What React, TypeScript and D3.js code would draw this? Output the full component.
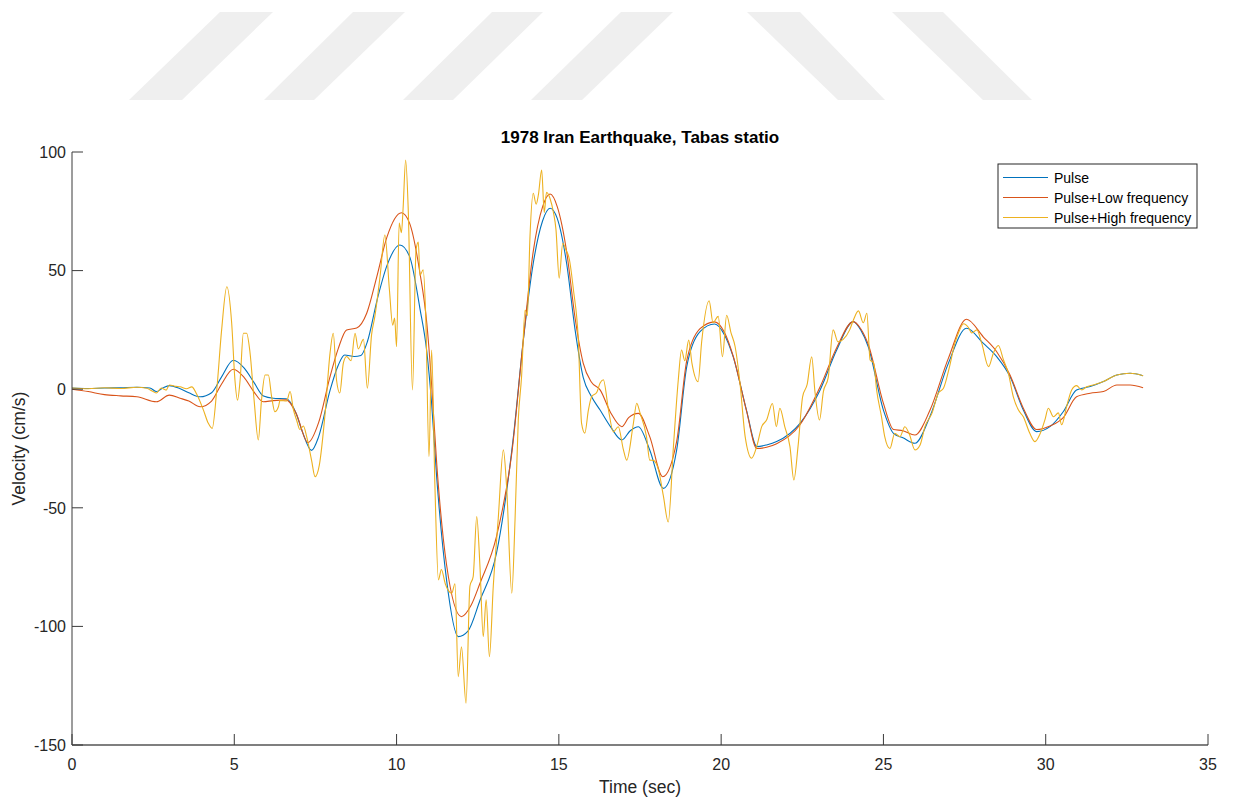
import React from "react";
import * as d3 from "d3";

// Velocity time histories (time in s, velocity in cm/s)
const pulse: [number, number][] = [
  [0, 0.5], [0.5, 0.3], [1.0, 0.5], [1.5, 0.6], [2.0, 0.8], [2.4, 0.5], [2.6, -1.0], [2.8, 0.5],
  [3.0, 1.5], [3.3, 0.4], [3.6, -1.5], [3.95, -3.2], [4.3, -1.5], [4.6, 5], [4.97, 12.2], [5.3, 9],
  [5.6, 3], [5.9, -2.9], [6.2, -3.8], [6.6, -4.0], [6.9, -10], [7.1, -18], [7.38, -25.8], [7.6, -20],
  [7.95, -0.5], [8.2, 10], [8.4, 14.4], [8.7, 13.8], [8.9, 14.2], [9.1, 20], [9.4, 37.6], [9.7, 52],
  [10.1, 60.8], [10.4, 56], [10.72, 34], [10.93, 16], [11.08, -6], [11.23, -36], [11.54, -80.4],
  [11.9, -104.3], [12.2, -102], [12.57, -89], [13.08, -69], [13.6, -20], [13.9, 20], [14.21, 53],
  [14.5, 71], [14.73, 76.3], [14.95, 72], [15.24, 53], [15.5, 25], [15.75, 5], [16.0, -3], [16.27, -8.8],
  [16.6, -16], [16.94, -21.4], [17.2, -17.5], [17.45, -15.8], [17.8, -25.6], [18.22, -41.8],
  [18.63, -25.6], [18.94, 9.5], [19.35, 24.3], [19.8, 27.5], [20.1, 23], [20.37, 13.7], [20.78, -8.8],
  [21.1, -24.2], [21.4, -23.5], [21.71, -22.1], [22.43, -14.4], [23.05, -0.3], [23.56, 16.5],
  [24.07, 28.5], [24.3, 25], [24.53, 18], [25.0, -8.8], [25.31, -18.6], [25.6, -20.5], [25.97, -22.8],
  [26.43, -11.6], [27.0, 10.9], [27.56, 25.7], [28.08, 19.3], [28.49, 13.7], [28.9, 5.3], [29.31, -8.8],
  [29.72, -17.9], [30.13, -15.8], [30.54, -9.5], [30.95, -0.3], [31.37, 1.1], [31.78, 3.2], [32.19, 6],
  [32.6, 6.7], [33.0, 5.7],
];

const pulseLow: [number, number][] = [
  [0, 0], [0.5, -1], [1.0, -2.3], [1.5, -2.8], [2.0, -3.2], [2.6, -5.3], [3.0, -2.5], [3.33, -3.8],
  [3.6, -5], [3.95, -7.4], [4.3, -5], [4.6, 2], [4.97, 8.4], [5.3, 5], [5.6, -1], [5.89, -5.3],
  [6.2, -4.8], [6.6, -4.5], [6.9, -10], [7.27, -22.5], [7.6, -14], [7.95, 5.3], [8.2, 17], [8.46, 25],
  [8.77, 25.8], [9.08, 32], [9.39, 47.4], [9.7, 64], [10.15, 74.4], [10.4, 70], [10.72, 49],
  [10.93, 28], [11.08, 2], [11.24, -32], [11.54, -74], [12.0, -95.9], [12.3, -91], [12.57, -81.8],
  [13.08, -62], [13.55, -27], [13.9, 20], [14.21, 58], [14.5, 77], [14.73, 82.3], [14.95, 77], [15.24, 58],
  [15.5, 30], [15.75, 11], [16.0, 3], [16.27, -0.3], [16.6, -10], [16.94, -15.8], [17.15, -12],
  [17.45, -10.2], [17.8, -20], [18.2, -36.9], [18.63, -22], [18.94, 12], [19.35, 25.5], [19.8, 28.4],
  [20.1, 24], [20.37, 14], [20.78, -9], [21.1, -25], [21.4, -24.5], [21.71, -23], [22.43, -15],
  [23.05, 1], [23.56, 17.5], [24.07, 28.5], [24.3, 25.5], [24.53, 19], [25.0, -6], [25.31, -17],
  [25.6, -17.5], [25.97, -19.3], [26.43, -9], [27.0, 13], [27.56, 29.5], [28.08, 22], [28.49, 15.8],
  [28.9, 6], [29.31, -8], [29.72, -17], [30.13, -15.5], [30.54, -12], [30.95, -3.2], [31.37, -1.7],
  [31.78, -1], [32.19, 1.8], [32.6, 1.8], [33.0, 0.6],
];

const pulseHigh: [number, number][] = [
  [0, 0.5], [0.5, 0.2], [1.0, 0.6], [1.5, 0.3], [2.0, 0.8], [2.3, 0.4], [2.5, -1], [2.6, -1.6],
  [2.75, 0.5], [2.9, -0.4], [3.0, 1.8], [3.2, 1.2], [3.33, 1], [3.53, 0.2], [3.69, 1], [3.84, -2],
  [4.05, -8.8], [4.2, -14.4], [4.32, -16.5], [4.46, -0.3], [4.61, 25], [4.77, 43.2], [4.92, 27.8],
  [5.02, 3.9], [5.1, -4.6], [5.18, 3.9], [5.28, 23.6], [5.38, 23.6], [5.48, 16], [5.61, -4.5],
  [5.74, -21.4], [5.84, -4.4], [5.95, 6], [6.05, 6], [6.15, -3.1], [6.25, -9.5], [6.36, -7.4],
  [6.41, -4.7], [6.61, -5], [6.72, -1], [6.82, -8.5], [6.92, -13], [7.02, -17], [7.13, -15.5],
  [7.23, -20], [7.38, -29.9], [7.49, -36.9], [7.62, -32], [7.8, -10], [7.95, 15.2], [8.05, 23.6],
  [8.15, 3.9], [8.25, -1.6], [8.36, 11], [8.46, 13.8], [8.6, 12], [8.72, 23.6], [8.82, 17], [8.98, 21],
  [9.1, 0.4], [9.23, 23], [9.33, 30.6], [9.49, 47.4], [9.64, 65], [9.78, 41.8], [9.88, 27], [9.94, 30],
  [10.0, 17.9], [10.08, 70], [10.15, 66], [10.2, 76], [10.28, 96.6], [10.36, 75.5], [10.49, -0.3],
  [10.6, 58.7], [10.67, 62], [10.72, 48], [10.82, 50.3], [10.9, 30], [11.0, -28.4], [11.08, 16.5],
  [11.18, -40], [11.29, -80.4], [11.38, -76], [11.5, -82], [11.7, -86], [11.8, -82], [11.9, -121.2],
  [12.0, -108.6], [12.14, -132.4], [12.26, -83], [12.36, -79], [12.47, -53.7], [12.57, -75],
  [12.67, -104.3], [12.76, -88.8], [12.86, -112.8], [12.98, -83], [13.13, -55], [13.29, -25.6],
  [13.39, -41], [13.55, -86], [13.65, -55], [13.75, -13], [13.85, 5], [13.96, 33.4], [14.03, 31],
  [14.11, 64.3], [14.21, 82.6], [14.3, 78], [14.37, 82], [14.47, 92.4], [14.55, 74.5], [14.62, 83],
  [14.73, 80.3], [14.83, 74.7], [14.91, 67.5], [15.01, 46.8], [15.12, 61.5], [15.22, 58.7], [15.32, 55],
  [15.45, 41.8], [15.6, 20.7], [15.7, -14.4], [15.8, -18.5], [15.91, -8.8], [16.01, -3.2], [16.17, -1.3],
  [16.27, 2.6], [16.37, 4], [16.53, -8.8], [16.68, -18], [16.83, -15.8], [16.99, -25.6], [17.09, -29.9],
  [17.29, -15], [17.4, -5.9], [17.5, -10], [17.7, -20], [17.8, -29.9], [17.91, -30], [18.07, -34],
  [18.22, -45], [18.37, -56], [18.53, -24.2], [18.68, 4], [18.78, 16.5], [18.88, 12], [19.0, 20.7],
  [19.1, 11], [19.29, 3.2], [19.4, 20], [19.63, 37.3], [19.75, 28], [19.91, 30.7], [20.04, 13.7],
  [20.17, 31.2], [20.3, 24], [20.43, 18], [20.58, 2.6], [20.74, -20], [20.94, -29.1], [21.1, -24],
  [21.25, -15.8], [21.4, -13], [21.58, -6], [21.7, -15.8], [21.81, -8], [21.96, -15.8], [22.12, -24.2],
  [22.24, -38.3], [22.37, -24], [22.51, -3.2], [22.65, 2], [22.79, 13.7], [22.89, -1], [23.03, -13],
  [23.15, -1], [23.3, 5], [23.45, 25], [23.6, 20], [23.76, 21], [23.96, 25], [24.07, 29], [24.23, 33],
  [24.38, 28], [24.49, 32], [24.59, 12.3], [24.7, 11], [24.79, -0.3], [24.94, -11.6], [25.04, -20],
  [25.2, -25], [25.35, -18.6], [25.51, -20], [25.66, -15.8], [25.8, -19], [25.97, -25.6], [26.13, -23.5],
  [26.28, -15.8], [26.5, -10], [26.69, -1.7], [26.85, 0.4], [27.05, 10.3], [27.2, 19.3], [27.31, 23.7],
  [27.47, 27.6], [27.62, 26], [27.72, 23.7], [27.88, 25], [28.03, 19.3], [28.24, 9.5], [28.39, 15.3],
  [28.54, 18.4], [28.7, 12.3], [28.85, 6.7], [29.0, -3.1], [29.16, -8.8], [29.31, -11.6], [29.51, -18.6],
  [29.67, -22.1], [29.82, -19], [29.98, -12.7], [30.08, -8], [30.24, -11.6], [30.39, -10], [30.49, -15],
  [30.65, -7], [30.8, -0.3], [30.95, 1.5], [31.11, -0.3], [31.26, 1], [31.46, 1.8], [31.78, 3.2],
  [32.19, 6], [32.6, 6.7], [33.0, 5.7],
];

const seriesNames = ["Pulse", "Pulse+Low frequency", "Pulse+High frequency"];
const seriesColors = ["#0072BD", "#D95319", "#EDB120"];
const xTicks = [0, 5, 10, 15, 20, 25, 30, 35];
const yTicks = [-150, -100, -50, 0, 50, 100];
const title = "1978 Iran Earthquake, Tabas statio";
const xLabel = "Time (sec)";
const yLabel = "Velocity (cm/s)";

// Light diagonal stripes in the page header: [topLeft, topRight, bottomLeft, bottomRight]
const stripes: [number, number, number, number][] = [
  [220, 273, 129, 182],
  [353, 405, 264, 314],
  [492, 543, 403, 453],
  [621, 673, 531, 582],
  [747, 800, 838, 885],
  [892, 943, 983, 1032],
];

const W = 1233;
const H = 800;
const left = 72;
const right = 1208;
const top = 152;
const bottom = 745;
const FONT = "'Liberation Sans', Arial, Helvetica, sans-serif";
const TEXT = "#262626";

export default function App() {
  const x = d3.scaleLinear().domain([0, 35]).range([left, right]);
  const y = d3.scaleLinear().domain([-150, 100]).range([bottom, top]);
  const line = d3
    .line<[number, number]>()
    .x((d) => x(d[0]))
    .y((d) => y(d[1]))
    .curve(d3.curveMonotoneX);

  const allSeries = [pulse, pulseLow, pulseHigh];
  const tickLen = 11;

  return (
    <svg
      width={W}
      height={H}
      viewBox={`0 0 ${W} ${H}`}
      style={{ position: "absolute", left: 0, top: 0, background: "#fff" }}
      fontFamily={FONT}
    >
      <rect x={0} y={0} width={W} height={H} fill="#fff" />
      {stripes.map((s, i) => (
        <polygon
          key={i}
          points={`${s[0]},12 ${s[1]},12 ${s[3]},100 ${s[2]},100`}
          fill="#efefef"
        />
      ))}

      <defs>
        <clipPath id="plot-clip">
          <rect x={left} y={top - 2} width={right - left} height={bottom - top + 4} />
        </clipPath>
      </defs>

      <g clipPath="url(#plot-clip)" fill="none" strokeWidth={1.1} strokeLinejoin="round">
        {allSeries.map((s, i) => (
          <path key={i} d={line(s) ?? ""} stroke={seriesColors[i]} />
        ))}
      </g>

      {/* axes */}
      <line x1={left} x2={left} y1={top} y2={bottom} stroke="#3a3a3a" strokeWidth={1} />
      <line x1={left} x2={right} y1={bottom} y2={bottom} stroke="#555" strokeWidth={1.5} />
      {xTicks.map((t) => (
        <g key={`x${t}`}>
          <line x1={x(t)} x2={x(t)} y1={bottom} y2={bottom - tickLen} stroke="#3a3a3a" strokeWidth={1} />
          <text x={x(t)} y={770} textAnchor="middle" fontSize={16} fill={TEXT}>
            {t}
          </text>
        </g>
      ))}
      {yTicks.map((t) => (
        <g key={`y${t}`}>
          <line x1={left} x2={left + tickLen} y1={y(t)} y2={y(t)} stroke="#3a3a3a" strokeWidth={1} />
          <text x={66} y={y(t) + 5.7} textAnchor="end" fontSize={16} fill={TEXT}>
            {t}
          </text>
        </g>
      ))}

      <text x={(left + right) / 2} y={793} textAnchor="middle" fontSize={17.5} fill={TEXT}>
        {xLabel}
      </text>
      <text
        transform={`translate(25, ${(top + bottom) / 2}) rotate(-90)`}
        textAnchor="middle"
        fontSize={17.5}
        fill={TEXT}
      >
        {yLabel}
      </text>
      <text
        x={(left + right) / 2}
        y={143}
        textAnchor="middle"
        fontSize={17}
        fontWeight="bold"
        fill="#000"
      >
        {title}
      </text>

      {/* legend */}
      <g>
        <rect x={998} y={164} width={199} height={64} fill="#fff" stroke={TEXT} strokeWidth={1} />
        {seriesNames.map((n, i) => {
          const ry = 177.5 + i * 20;
          return (
            <g key={n}>
              <line x1={1003} x2={1048} y1={ry} y2={ry} stroke={seriesColors[i]} strokeWidth={1.2} />
              <text x={1054} y={ry + 5} fontSize={14} fill="#000">
                {n}
              </text>
            </g>
          );
        })}
      </g>
    </svg>
  );
}
